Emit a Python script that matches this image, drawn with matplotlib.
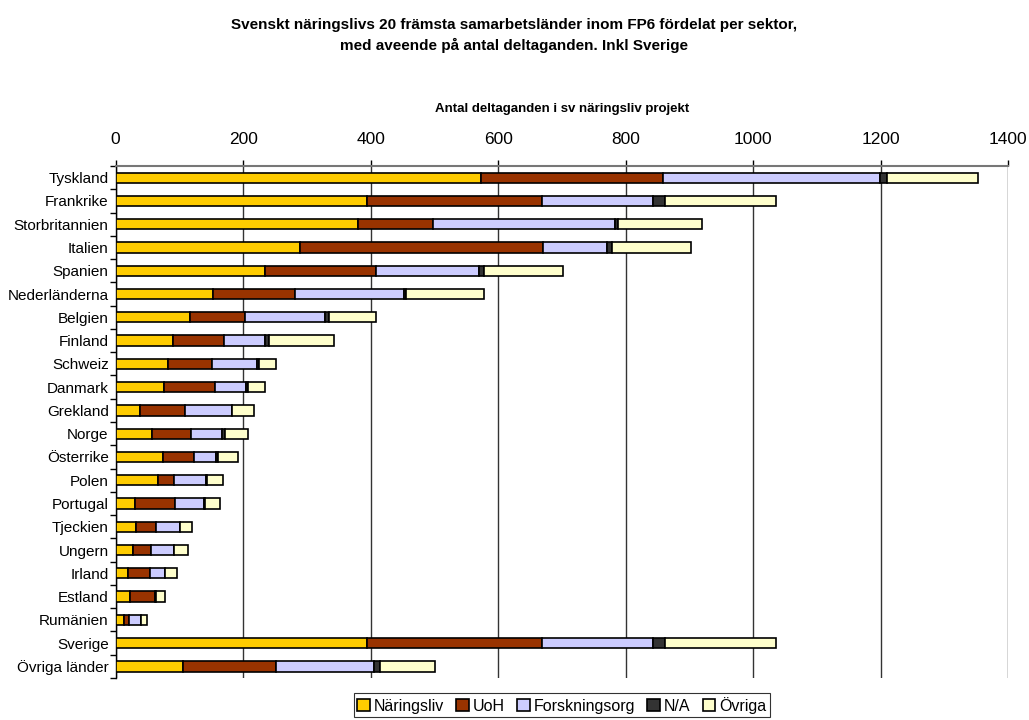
import numpy as np
import matplotlib
matplotlib.use("Agg")
import matplotlib.pyplot as plt
from matplotlib.ticker import FixedLocator

plt.rcParams['font.family'] = ['Liberation Sans', 'DejaVu Sans']

# deltaganden per land och sektor
lander = ['Tyskland', 'Frankrike', 'Storbritannien', 'Italien', 'Spanien',
          'Nederländerna', 'Belgien', 'Finland', 'Schweiz', 'Danmark',
          'Grekland', 'Norge', 'Österrike', 'Polen', 'Portugal', 'Tjeckien',
          'Ungern', 'Irland', 'Estland', 'Rumänien', 'Sverige', 'Övriga länder']
naringsliv = [573, 394, 380, 289, 235, 153, 117, 90, 82, 76, 38, 57, 74, 67, 31, 32, 27, 19, 23, 13, 394, 105]
uoh = [285, 275, 117, 381, 173, 128, 86, 80, 69, 80, 70, 61, 49, 24, 62, 31, 28, 35, 38, 8, 275, 147]
forskningsorg = [341, 174, 286, 100, 162, 171, 126, 65, 70, 48, 75, 48, 34, 50, 46, 38, 36, 24, 2, 19, 174, 153]
na = [10, 19, 5, 8, 7, 4, 6, 6, 4, 3, 0, 5, 3, 3, 1, 0, 0, 0, 0, 0, 19, 10]
ovriga = [143, 174, 132, 125, 125, 122, 74, 101, 26, 28, 34, 37, 32, 24, 23, 19, 23, 18, 15, 9, 174, 86]

sektorer = ['Näringsliv', 'UoH', 'Forskningsorg', 'N/A', 'Övriga']
farger = ['#FFCC00', '#993300', '#CCCCFF', '#333333', '#FFFFCC']
serier = [naringsliv, uoh, forskningsorg, na, ovriga]

fig = plt.figure(figsize=(10.29, 7.2), dpi=100)
ax = fig.add_axes([0.1124, 0.0583, 0.8675, 0.7111])

y = np.arange(len(lander))
left = np.zeros(len(lander))
for namn, data, farg in zip(sektorer, serier, farger):
    data = np.array(data, dtype=float)
    ax.barh(y, data, left=left, height=0.44, color=farg, edgecolor='black',
            linewidth=1.2, label=namn, zorder=3)
    left += data

ax.set_xlim(0, 1400)
ax.set_ylim(len(lander) - 0.5, -0.5)
ax.xaxis.tick_top()
ax.xaxis.set_label_position('top')
ax.set_xticks(np.arange(0, 1401, 200))
ax.tick_params(axis='x', direction='out', length=4, width=1, pad=10, labelsize=12.5)
ax.set_xlabel('Antal deltaganden i sv näringsliv projekt', fontsize=9.5,
              fontweight='bold', labelpad=14)
ax.grid(axis='x', color='#333333', linewidth=1, zorder=0)

ax.set_yticks(y)
ax.set_yticklabels(lander, fontsize=11)
ax.tick_params(axis='y', which='major', length=0, pad=5)
ax.yaxis.set_minor_locator(FixedLocator(np.arange(-0.5, len(lander), 1.0)))
ax.tick_params(axis='y', which='minor', length=4, width=1, direction='out')

for s in ['right', 'bottom']:
    ax.spines[s].set_visible(False)
ax.spines['top'].set_color('#777777')
ax.spines['top'].set_linewidth(1.5)
ax.spines['left'].set_linewidth(1)

fig.suptitle('Svenskt näringslivs 20 främsta samarbetsländer inom FP6 fördelat per sektor,\n'
             'med aveende på antal deltaganden. Inkl Sverige',
             x=0.5, y=0.975, fontsize=11, fontweight='bold', linespacing=1.5)

leg = ax.legend(loc='upper center', bbox_to_anchor=(0.5, -0.03), ncol=5,
                fontsize=11.5, frameon=True, fancybox=False, edgecolor='black',
                handlelength=0.8, handleheight=0.8, handletextpad=0.25,
                columnspacing=0.75, borderpad=0.2, borderaxespad=0)
leg.get_frame().set_linewidth(0.8)

fig.savefig('out.png', dpi=100)
